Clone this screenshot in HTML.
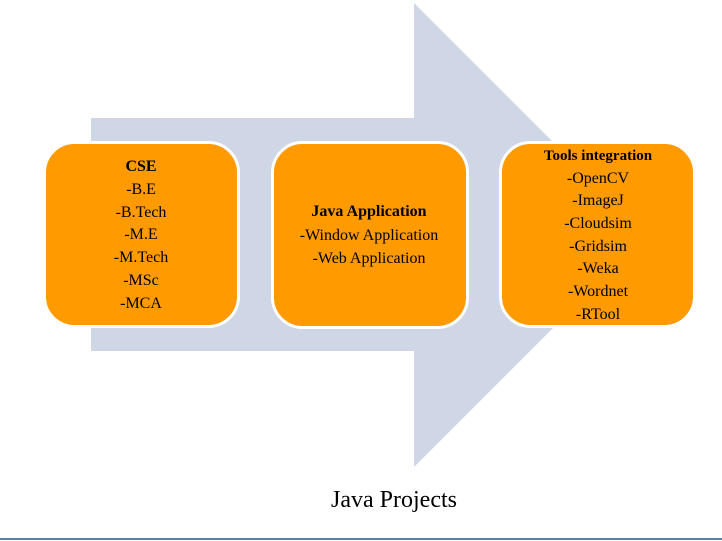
<!DOCTYPE html>
<html>
<head>
<meta charset="utf-8">
<style>
  html,body{margin:0;padding:0;background:#fff;}
  body{width:722px;height:541px;overflow:hidden;}
  svg{display:block;}
  text{font-family:"Liberation Serif","Times New Roman",serif;fill:#000;}
</style>
</head>
<body>
<svg width="722" height="541" viewBox="0 0 722 541" xmlns="http://www.w3.org/2000/svg">
  <rect x="0" y="0" width="722" height="541" fill="#ffffff"/>
  <!-- big arrow -->
  <polygon points="91,118 414,118 414,3 646,235 414,467 414,351 91,351" fill="#cfd6e6"/>
  <!-- boxes -->
  <rect x="44.5" y="142.5" width="194" height="184" rx="30" ry="30" fill="#ff9a00" stroke="#ffffff" stroke-width="3"/>
  <rect x="272.5" y="142.5" width="195" height="185" rx="30" ry="30" fill="#ff9a00" stroke="#ffffff" stroke-width="3"/>
  <rect x="500.5" y="142.5" width="194" height="184" rx="30" ry="30" fill="#ff9a00" stroke="#ffffff" stroke-width="3"/>

  <!-- box 1 text -->
  <g text-anchor="middle" font-size="16">
    <text x="141" y="171" font-weight="bold">CSE</text>
    <text x="141" y="194">-B.E</text>
    <text x="141" y="217">-B.Tech</text>
    <text x="141" y="239">-M.E</text>
    <text x="141" y="262">-M.Tech</text>
    <text x="141" y="285">-MSc</text>
    <text x="141" y="308">-MCA</text>
  </g>

  <!-- box 2 text -->
  <g text-anchor="middle" font-size="16">
    <text x="369" y="216" font-weight="bold">Java Application</text>
    <text x="369" y="240">-Window Application</text>
    <text x="369" y="263">-Web Application</text>
  </g>

  <!-- box 3 text -->
  <g text-anchor="middle" font-size="16">
    <text x="598" y="160" font-weight="bold" font-size="15">Tools integration</text>
    <text x="598" y="183">-OpenCV</text>
    <text x="598" y="205">-ImageJ</text>
    <text x="598" y="228">-Cloudsim</text>
    <text x="598" y="251">-Gridsim</text>
    <text x="598" y="273">-Weka</text>
    <text x="598" y="296">-Wordnet</text>
    <text x="598" y="319">-RTool</text>
  </g>

  <!-- caption -->
  <text x="394" y="507" text-anchor="middle" font-size="24">Java Projects</text>

  <!-- bottom rule -->
  <rect x="0" y="538" width="722" height="2" fill="#5b7fa8"/>
</svg>
</body>
</html>
